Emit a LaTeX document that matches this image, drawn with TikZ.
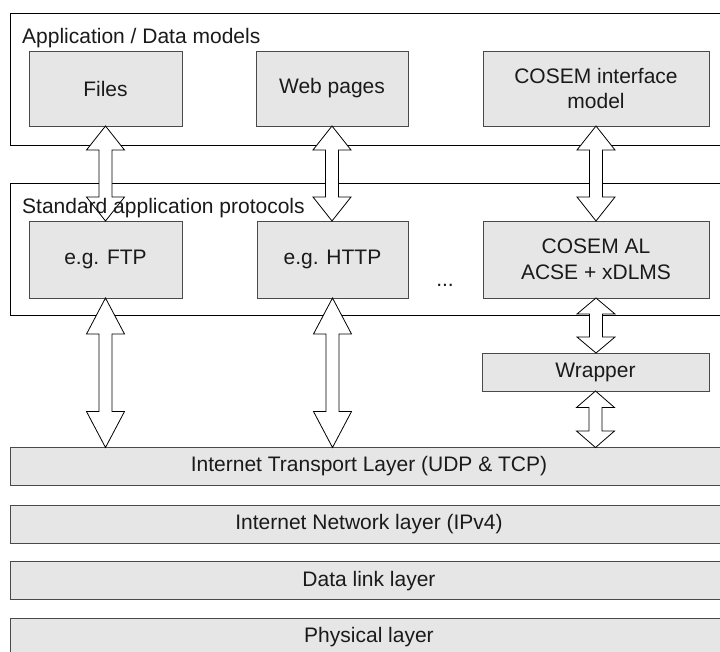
\documentclass[tikz,border=0pt]{standalone}
\usepackage{fontspec}
\setmainfont{Liberation Sans}
\usetikzlibrary{calc}
\definecolor{boxfill}{HTML}{E6E6E6}
\definecolor{boxline}{HTML}{4A4A4A}
\definecolor{txt}{HTML}{1A1A1A}
\tikzset{
  frame/.style={draw=black, line width=0.9pt, fill=white, rectangle, anchor=north west, outer sep=0pt, inner sep=0pt},
  gbox/.style={draw=boxline, line width=0.9pt, fill=boxfill, rectangle, outer sep=0pt, inner sep=0pt, align=center, text=txt, font=\fontsize{21}{25}\selectfont},
  layerbox/.style={gbox, minimum width=718, minimum height=38},
  framelabel/.style={anchor=base west, inner sep=0pt, text=txt, font=\fontsize{21}{25}\selectfont},
  bigarrow/.style={draw=black, line width=0.8pt, fill=white, line join=miter},
}
\newcommand\updown[3]{%
  \path[bigarrow] let \p1=(#1), \p2=(#2) in
    (\x1,\y1) -- ({\x1+19pt},{\y1-#3}) -- ({\x1+6.5pt},{\y1-#3}) -- ({\x1+6.5pt},{\y2+#3})
    -- ({\x1+19pt},{\y2+#3}) -- (\x1,\y2) -- ({\x1-19pt},{\y2+#3}) -- ({\x1-6.5pt},{\y2+#3})
    -- ({\x1-6.5pt},{\y1-#3}) -- ({\x1-19pt},{\y1-#3}) -- cycle;}
\begin{document}
\begin{tikzpicture}[x=1pt, y=-1pt]
\useasboundingbox (0,0) rectangle (720,651);
\clip (0,0) rectangle (720,651);
% frames
\node[frame, minimum width=718, minimum height=132] (appframe) at (10,13) {};
\node[frame, minimum width=718, minimum height=132] (protoframe) at (10,183) {};
% application boxes
\node[gbox, minimum width=153, minimum height=75] (files) at (105.5,88.5) {Files};
\node[gbox, minimum width=152, minimum height=75] (web) at (332,88.5) {Web pages};
\node[gbox, minimum width=226, minimum height=75] (cim) at (596,88.5) {COSEM interface\\model};
% protocol boxes
\node[gbox, minimum width=153, minimum height=77] (ftp) at (105.5,259.5) {e.g. FTP};
\node[gbox, minimum width=151, minimum height=77] (http) at (332.5,259.5) {e.g. HTTP};
\node[gbox, minimum width=226, minimum height=77, font=\fontsize{21}{26}\selectfont] (al) at (596,259.5) {COSEM AL\\ACSE + xDLMS};
\node[anchor=base, inner sep=0pt, text=txt, font=\fontsize{21}{25}\selectfont] (dots) at (445,286) {...};
% wrapper
\node[gbox, minimum width=227, minimum height=38] (wrapper) at (595.5,372) {Wrapper};
% layers
\node[layerbox] (transport) at (369,466.5) {Internet Transport Layer (UDP \& TCP)};
\node[layerbox] (network) at (369,524) {Internet Network layer (IPv4)};
\node[layerbox] (datalink) at (369,580.8) {Data link layer};
\node[layerbox] (physical) at (369,637.3) {Physical layer};
% arrows
\updown{files.south}{ftp.north}{24pt}
\updown{web.south}{http.north}{24pt}
\updown{cim.south}{al.north}{24pt}
\updown{ftp.south}{ftp.south |- transport.north}{36pt}
\updown{http.south}{http.south |- transport.north}{36pt}
\updown{al.south}{wrapper.north}{16pt}
\updown{wrapper.south}{wrapper.south |- transport.north}{16.5pt}
% frame labels
\node[framelabel] (applabel) at (22,43) {Application / Data models};
\node[framelabel] (protolabel) at (22,213) {Standard application protocols};
\end{tikzpicture}
\end{document}
